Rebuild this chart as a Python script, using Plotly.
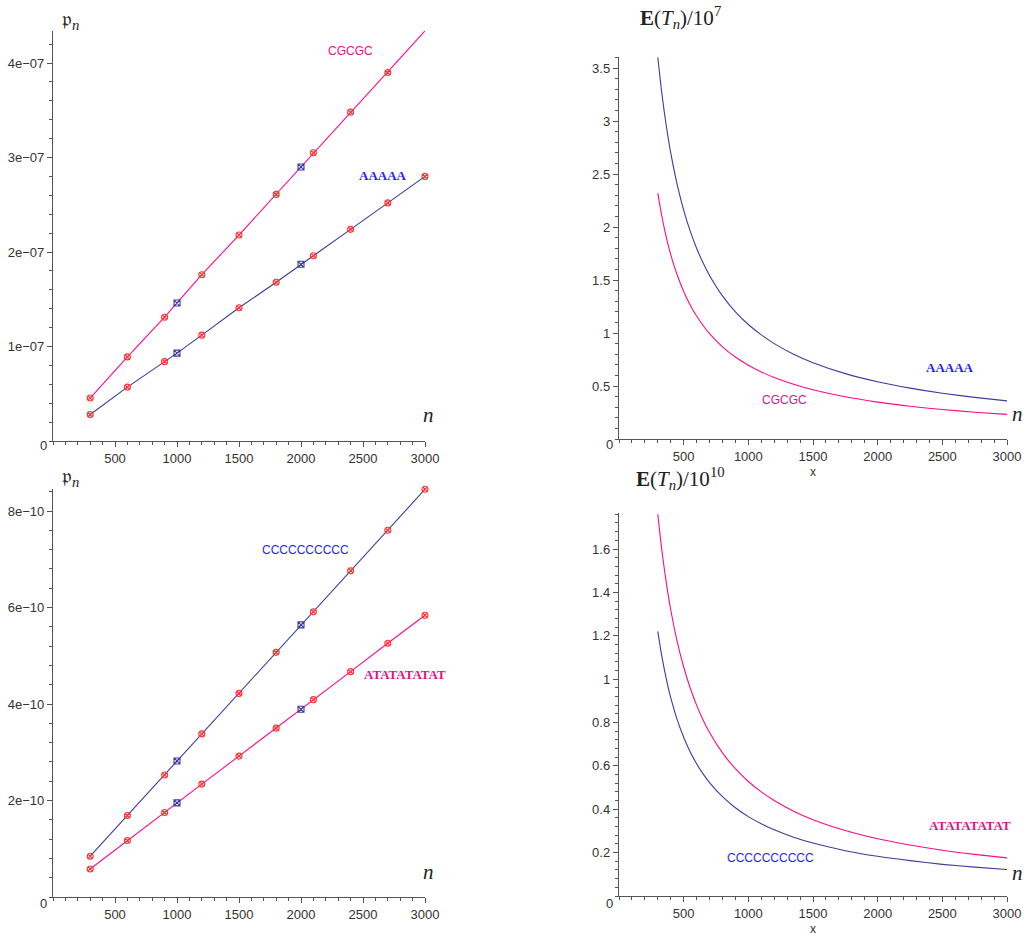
import plotly.graph_objects as go

# ---------------- data ----------------
n_pts = [300, 600, 900, 1000, 1200, 1500, 1800, 2000, 2100, 2400, 2700, 3000]
p_AAAAA = [0.28e-7, 0.57e-7, 0.84e-7, 0.93e-7, 1.12e-7, 1.41e-7, 1.68e-7, 1.87e-7, 1.96e-7, 2.24e-7, 2.52e-7, 2.80e-7]
p_CGCGC = [0.455e-7, 0.89e-7, 1.31e-7, 1.46e-7, 1.76e-7, 2.18e-7, 2.61e-7, 2.90e-7, 3.05e-7, 3.48e-7, 3.90e-7, 4.34e-7]
p_CCCC = [0.845e-10, 1.69e-10, 2.53e-10, 2.82e-10, 3.38e-10, 4.22e-10, 5.07e-10, 5.64e-10, 5.91e-10, 6.76e-10, 7.60e-10, 8.45e-10]
p_ATAT = [0.58e-10, 1.17e-10, 1.75e-10, 1.95e-10, 2.34e-10, 2.92e-10, 3.50e-10, 3.89e-10, 4.09e-10, 4.67e-10, 5.26e-10, 5.84e-10]

n_curve = [300, 325, 350, 375, 400, 450, 500, 550, 600, 650, 700, 800, 900, 1000,
           1100, 1200, 1350, 1500, 1750, 2000, 2250, 2500, 2750, 3000]
E_AAAAA = [3.60, 3.323, 3.086, 2.88, 2.70, 2.40, 2.16, 1.964, 1.80, 1.662, 1.543, 1.35, 1.20, 1.08,
           0.982, 0.90, 0.80, 0.72, 0.617, 0.54, 0.48, 0.432, 0.393, 0.36]
E_CGCGC = [2.32, 2.142, 1.989, 1.856, 1.74, 1.547, 1.392, 1.265, 1.16, 1.071, 0.994, 0.87, 0.773, 0.696,
           0.633, 0.58, 0.516, 0.464, 0.398, 0.348, 0.309, 0.278, 0.253, 0.232]
E_CCCC = [1.22, 1.126, 1.046, 0.976, 0.915, 0.813, 0.732, 0.665, 0.61, 0.563, 0.523, 0.458, 0.407, 0.366,
          0.333, 0.305, 0.271, 0.244, 0.209, 0.183, 0.163, 0.146, 0.133, 0.122]
E_ATAT = [1.76, 1.625, 1.509, 1.408, 1.32, 1.173, 1.056, 0.96, 0.88, 0.812, 0.754, 0.66, 0.587, 0.528,
          0.48, 0.44, 0.391, 0.352, 0.302, 0.264, 0.235, 0.211, 0.192, 0.176]

sq_n = [1000, 2000]

W, H = 1026, 940
NAVY = "#3c3ca0"
MAG = "#ff0a8c"
TXT_BLUE = "#1f1fff"
TXT_MAG = "#e8108a"
RED = "#ff3333"
AX = "#555555"

fig = go.Figure()


def lin_panel(xa, ya, series):
    for vals, col in series:
        fig.add_trace(go.Scatter(x=n_pts, y=vals, mode="lines", line=dict(color=col, width=1.1),
                                 xaxis=xa, yaxis=ya, showlegend=False, hoverinfo="skip"))
        circ_x = [n for n in n_pts if n not in sq_n]
        circ_y = [v for n, v in zip(n_pts, vals) if n not in sq_n]
        sq_y = [v for n, v in zip(n_pts, vals) if n in sq_n]
        fig.add_trace(go.Scatter(x=circ_x, y=circ_y, mode="markers",
                                 marker=dict(symbol="circle-x-open", size=6, color=RED, line=dict(width=1.1)),
                                 xaxis=xa, yaxis=ya, showlegend=False, cliponaxis=False, hoverinfo="skip"))
        fig.add_trace(go.Scatter(x=sq_n, y=sq_y, mode="markers",
                                 marker=dict(symbol="square-x-open", size=6, color=NAVY, line=dict(width=1.1)),
                                 xaxis=xa, yaxis=ya, showlegend=False, cliponaxis=False, hoverinfo="skip"))


def curve_panel(xa, ya, series):
    for vals, col in series:
        fig.add_trace(go.Scatter(x=n_curve, y=vals, mode="lines",
                                 line=dict(color=col, width=1.1, shape="spline", smoothing=0.6),
                                 xaxis=xa, yaxis=ya, showlegend=False, cliponaxis=False, hoverinfo="skip"))


lin_panel("x", "y", [(p_AAAAA, NAVY), (p_CGCGC, MAG)])
curve_panel("x2", "y2", [(E_AAAAA, NAVY), (E_CGCGC, MAG)])
lin_panel("x3", "y3", [(p_CCCC, NAVY), (p_ATAT, MAG)])
curve_panel("x4", "y4", [(E_CCCC, NAVY), (E_ATAT, MAG)])


def dom_x(a, b):
    return [a / W, b / W]


def dom_y(top, bottom):
    return [1 - bottom / H, 1 - top / H]


tickfont = dict(family="Liberation Sans, Arial, sans-serif", size=13, color="#333333")


def xaxis(dom, anchor, title=None):
    d = dict(domain=dom, anchor=anchor, range=[0, 3000], showgrid=False, zeroline=False,
             showline=True, linecolor=AX, linewidth=1.4, ticks="outside", ticklen=5, tickwidth=1.2,
             tickcolor=AX, tickvals=[500, 1000, 1500, 2000, 2500, 3000],
             ticktext=["500", "1000", "1500", "2000", "2500", "3000"], tickfont=tickfont,
             minor=dict(dtick=100, tick0=0, ticks="outside", ticklen=3, tickcolor=AX, tickwidth=1),
             fixedrange=True, automargin=False)
    if title:
        d["title"] = dict(text=title, font=dict(family="Liberation Sans, Arial", size=12, color="#333"), standoff=4)
    return d


def yaxis(dom, anchor, rng, vals, texts, mdt):
    return dict(domain=dom, anchor=anchor, range=rng, showgrid=False, zeroline=False,
                showline=True, linecolor=AX, linewidth=1.4, ticks="outside", ticklen=5, tickwidth=1.2,
                tickcolor=AX, tickvals=vals, ticktext=texts, tickfont=tickfont,
                minor=dict(dtick=mdt, tick0=0, ticks="outside", ticklen=3, tickcolor=AX, tickwidth=1),
                fixedrange=True, automargin=False)


MINUS = "\u2212"
tl_vals = [1e-7, 2e-7, 3e-7, 4e-7]
tl_text = [f"{i}e{MINUS}07" for i in (1, 2, 3, 4)]
bl_vals = [2e-10, 4e-10, 6e-10, 8e-10]
bl_text = [f"{i}e{MINUS}10" for i in (2, 4, 6, 8)]
tr_vals = [0.5, 1, 1.5, 2, 2.5, 3, 3.5]
tr_text = ["0.5", "1", "1.5", "2", "2.5", "3", "3.5"]
br_vals = [0.2, 0.4, 0.6, 0.8, 1.0, 1.2, 1.4, 1.6]
br_text = ["0.2", "0.4", "0.6", "0.8", "1", "1.2", "1.4", "1.6"]

fig.update_layout(
    width=W, height=H, margin=dict(l=0, r=0, t=0, b=0, autoexpand=False),
    plot_bgcolor="white", paper_bgcolor="white",
    xaxis=xaxis(dom_x(53, 425), "y"),
    yaxis=yaxis(dom_y(31, 441), "x", [0, 4.339e-7], tl_vals, tl_text, 0.2e-7),
    xaxis2=xaxis(dom_x(619, 1007), "y2", "x"),
    yaxis2=yaxis(dom_y(57, 439), "x2", [0, 3.604], tr_vals, tr_text, 0.1),
    xaxis3=xaxis(dom_x(53, 425), "y3"),
    yaxis3=yaxis(dom_y(489, 897), "x3", [0, 8.456e-10], bl_vals, bl_text, 0.4e-10),
    xaxis4=xaxis(dom_x(619, 1007), "y4", "x"),
    yaxis4=yaxis(dom_y(513, 896), "x4", [0, 1.766], br_vals, br_text, 0.04),
)


def ann(px, py, text, font, xanchor="center"):
    fig.add_annotation(x=px / W, y=1 - py / H, xref="paper", yref="paper", text=text, showarrow=False,
                       font=font, xanchor=xanchor, yanchor="middle")


zero_font = dict(family="Liberation Sans, Arial", size=13, color="#333")
for (zx, zy) in [(43, 446), (609, 444), (43, 903), (609, 903)]:
    ann(zx, zy, "0", zero_font)

nfont = dict(family="Liberation Serif, DejaVu Serif, serif", size=21, color="#222")
for (nx, ny) in [(428, 415), (1017, 414), (428, 872), (1017, 873)]:
    ann(nx, ny, "<i>n</i>", nfont)

tfont = dict(family="Liberation Serif, DejaVu Serif, serif", size=21, color="#222")
ann(70, 20, "\U0001D52D<sub><i>n</i></sub>", tfont)
ann(70, 477, "\U0001D52D<sub><i>n</i></sub>", tfont)
ann(680, 17, "<b>E</b>(<i>T</i><sub><i>n</i></sub>)/10<sup>7</sup>", tfont)
ann(680, 478, "<b>E</b>(<i>T</i><sub><i>n</i></sub>)/10<sup>10</sup>", tfont)

serif_b = lambda c: dict(family="Liberation Serif, DejaVu Serif, serif", size=13, color=c)
sans = lambda c: dict(family="Liberation Sans, Arial, sans-serif", size=12, color=c)

ann(350, 51, "CGCGC", sans(TXT_MAG))
ann(383, 175, "<b>AAAAA</b>", serif_b(TXT_BLUE))
ann(950, 367, "<b>AAAAA</b>", serif_b(TXT_BLUE))
ann(784, 400, "CGCGC", sans(TXT_MAG))
ann(305, 550, "CCCCCCCCCC", sans(TXT_BLUE))
ann(405, 674, "<b>ATATATATAT</b>", serif_b(TXT_MAG))
ann(970, 825, "<b>ATATATATAT</b>", serif_b(TXT_MAG))
ann(770, 858, "CCCCCCCCCC", sans(TXT_BLUE))

fig.write_html("out.html")
